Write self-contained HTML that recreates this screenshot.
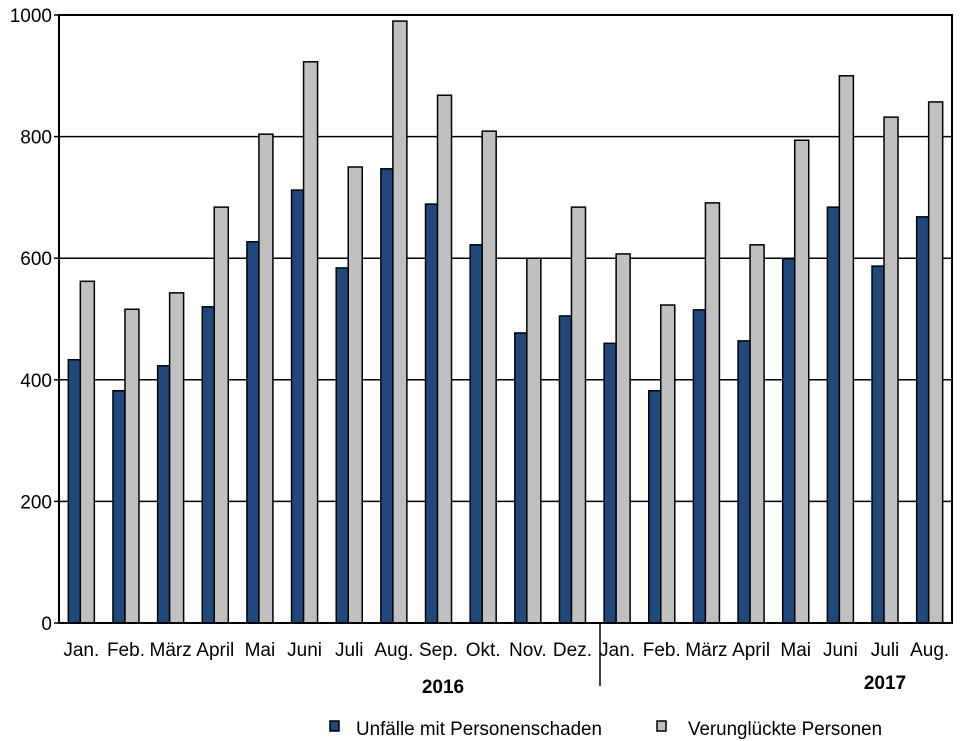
<!DOCTYPE html><html><head><style>body{margin:0;background:#fff}svg{display:block}text{font-family:"Liberation Sans",Arial,sans-serif;font-size:19px;fill:#000}</style></head><body>
<svg width="963" height="741" xmlns="http://www.w3.org/2000/svg" id="s"></svg>
<script>
const B=[433,382,423,520,627,712,584,747,689,622,477,505,460,382,515,464,599,684,587,668];
const G=[562,516,543,684,804,923,750,990,868,809,600,684,607,523,691,622,794,900,832,857];
const M=["Jan.","Feb.","März","April","Mai","Juni","Juli","Aug.","Sep.","Okt.","Nov.","Dez.","Jan.","Feb.","März","April","Mai","Juni","Juli","Aug."];
const L=59,R=952,T=15,Bo=623,gw=(R-L)/20;const y=v=>Bo-v*(Bo-T)/1000;
let s='';
for(let v=200;v<=800;v+=200)s+=`<line x1="${L}" x2="${R}" y1="${y(v)}" y2="${y(v)}" stroke="#000" stroke-width="1.5"/>`;
for(let v=0;v<=1000;v+=200)s+=`<line x1="${L-5}" x2="${L}" y1="${y(v)}" y2="${y(v)}" stroke="#000" stroke-width="1.5"/><text x="${L-7}" y="${y(v)+7}" text-anchor="end">${v}</text>`;
for(let i=0;i<20;i++){const x=L+i*gw+gw/2;
s+=`<rect x="${x-13}" y="${y(B[i])}" width="12" height="${Bo-y(B[i])}" fill="#1f497d" stroke="#000" stroke-width="1.5"/>`;
s+=`<rect x="${x-1}" y="${y(G[i])}" width="14" height="${Bo-y(G[i])}" fill="#c0c0c0" stroke="#000" stroke-width="1.5"/>`;
s+=`<text x="${x}" y="656" text-anchor="middle">${M[i]}</text>`;}
s+=`<rect x="${L}" y="${T}" width="${R-L}" height="${Bo-T}" fill="none" stroke="#000" stroke-width="2"/>`;
s+=`<line x1="600" x2="600" y1="623" y2="686" stroke="#000" stroke-width="1.5"/>`;
s+=`<text x="443" y="693" text-anchor="middle" font-weight="bold">2016</text><text x="885" y="689" text-anchor="middle" font-weight="bold">2017</text>`;
s+=`<rect x="330" y="721" width="9" height="10" fill="#1f497d" stroke="#000" stroke-width="1.5"/><text x="356" y="735" textLength="246" lengthAdjust="spacingAndGlyphs">Unfälle mit Personenschaden</text>`;
s+=`<rect x="657" y="721" width="9" height="10" fill="#c0c0c0" stroke="#000" stroke-width="1.5"/><text x="688" y="735" textLength="194" lengthAdjust="spacingAndGlyphs">Verunglückte Personen</text>`;
document.getElementById('s').innerHTML=s;
</script></body></html>
